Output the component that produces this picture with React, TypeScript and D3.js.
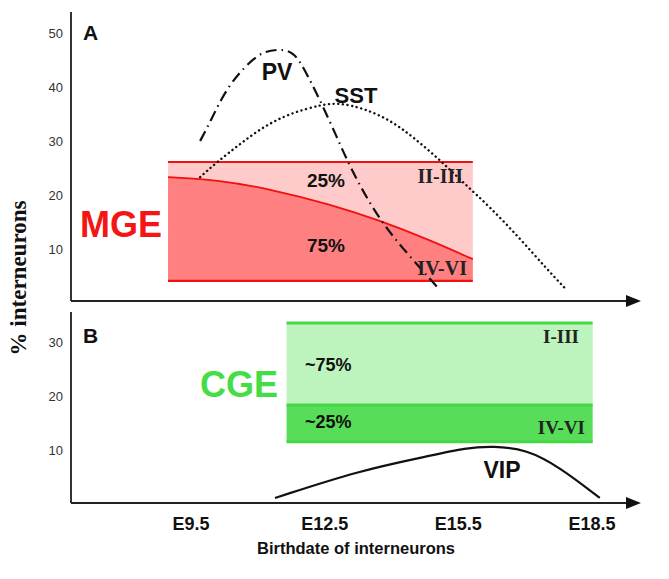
import * as d3 from "d3";

// birthdate axis
const tickDays = [9.5, 12.5, 15.5, 18.5];
const tickLabels = ["E9.5", "E12.5", "E15.5", "E18.5"];
const ticksA = [10, 20, 30, 40, 50];
const ticksB = [10, 20, 30];

// panel A: PV and SST birth curves
const pvDays = [9.66, 9.88, 10.26, 10.78, 11.1, 11.45, 11.75, 11.97, 12.35, 12.73, 13.02, 13.63, 14.3, 15.04];
const pvValues = [30.2, 33.6, 40.2, 45.0, 46.8, 47.2, 46.7, 44.0, 37.8, 30.9, 25.4, 16.1, 9.4, 2.6];
const sstDays = [9.66, 10.04, 10.55, 11.07, 11.67, 12.41, 12.8, 13.31, 13.92, 14.43, 15.04, 15.55, 16.16, 16.83, 17.44, 17.84];
const sstValues = [23.5, 26.3, 29.6, 32.8, 35.3, 37.0, 37.2, 36.3, 34.1, 31.0, 26.7, 22.6, 18.0, 12.2, 6.5, 3.0];

// MGE band and the split between upper (II-III) and deep (IV-VI) layers
const mgeDays = [8.94, 15.78];
const mgeTop = 26.3;
const mgeBottom = 4.3;
const mgeSplitDays = [8.94, 10.1, 11.22, 12.57, 13.69, 14.81, 15.78];
const mgeSplitValues = [23.5, 22.96, 21.3, 18.5, 15.5, 11.85, 8.3];

// panel B: CGE band and VIP curve
const cgeDays = [11.6, 18.47];
const cgeLevels = [33.7, 18.5, 11.7];
const vipDays = [11.34, 13.24, 14.75, 15.64, 16.23, 16.99, 17.73, 18.63];
const vipValues = [1.3, 6.4, 9.0, 10.6, 10.9, 10.3, 7.0, 1.3];

const W = 669;
const H = 579;
const sans = "'Liberation Sans', Arial, sans-serif";
const serif = "'Liberation Serif', 'Times New Roman', serif";

export default function App() {
  const x = d3.scaleLinear().domain([9.5, 18.5]).range([193, 594]);
  const yA = d3.scaleLinear().domain([0, 50]).range([304, 34]);
  const yB = d3.scaleLinear().domain([0, 30]).range([505, 343]);

  const axisX0 = 71;
  const axisAy = 301;
  const axisBy = 503;

  const curveOf = (days: number[], y: d3.ScaleLinear<number, number>, curve: d3.CurveFactory) =>
    d3
      .line<number>()
      .x((d, i) => x(days[i]))
      .y((d) => y(d))
      .curve(curve);

  const pv = curveOf(pvDays, yA, d3.curveBasis)(pvValues);
  const sst = curveOf(sstDays, yA, d3.curveBasis)(sstValues);
  const vip = curveOf(vipDays, yB, d3.curveBasis)(vipValues);
  const split = curveOf(mgeSplitDays, yA, d3.curveBasis)(mgeSplitValues);
  const deepArea = d3
    .area<number>()
    .x((d, i) => x(mgeSplitDays[i]))
    .y0(yA(mgeBottom))
    .y1((d) => yA(d))
    .curve(d3.curveBasis)(mgeSplitValues);

  const arrow = (y: number) => (
    <g>
      <line x1={axisX0} x2={628} y1={y} y2={y} stroke="#222" strokeWidth={2.2} />
      <path d={`M626,${y - 6} L641,${y} L626,${y + 6} Z`} fill="#111" />
    </g>
  );

  return (
    <svg width={W} height={H} style={{ position: "absolute", left: 0, top: 0, background: "#fff" }}>
      {/* panel A */}
      <rect
        x={x(mgeDays[0])}
        y={yA(mgeTop)}
        width={x(mgeDays[1]) - x(mgeDays[0])}
        height={yA(mgeBottom) - yA(mgeTop)}
        fill="#ffcaca"
      />
      <path d={deepArea ?? ""} fill="#ff8080" />
      <path d={split ?? ""} fill="none" stroke="#f01010" strokeWidth={1.8} />
      {[mgeTop, mgeBottom].map((v) => (
        <line key={v} x1={x(mgeDays[0])} x2={x(mgeDays[1])} y1={yA(v)} y2={yA(v)} stroke="#f01010" strokeWidth={2.2} />
      ))}

      <path d={sst ?? ""} fill="none" stroke="#111" strokeWidth={2.4} strokeDasharray="0.1,4.6" strokeLinecap="round" />
      <path d={pv ?? ""} fill="none" stroke="#111" strokeWidth={2.2} strokeDasharray="11,5,1.5,5" />

      <text x={326} y={187} fontFamily={sans} fontWeight="bold" fontSize={19} textAnchor="middle" fill="#111">25%</text>
      <text x={326} y={252} fontFamily={sans} fontWeight="bold" fontSize={19} textAnchor="middle" fill="#111">75%</text>
      <text x={463} y={183} fontFamily={serif} fontWeight="bold" fontSize={20} textAnchor="end" fill="#222">II-III</text>
      <text x={467} y={275} fontFamily={serif} fontWeight="bold" fontSize={20} textAnchor="end" fill="#222">IV-VI</text>
      <text x={277} y={80} fontFamily={sans} fontWeight="bold" fontSize={23} textAnchor="middle" fill="#111">PV</text>
      <text x={356} y={103} fontFamily={sans} fontWeight="bold" fontSize={22} textAnchor="middle" fill="#111">SST</text>
      <text x={80} y={237} fontFamily={sans} fontWeight="bold" fontSize={36} fill="#f41515">MGE</text>
      <text x={83} y={40} fontFamily={sans} fontWeight="bold" fontSize={21} fill="#111">A</text>

      <line x1={axisX0} x2={axisX0} y1={12} y2={axisAy} stroke="#333" strokeWidth={2} />
      {arrow(axisAy)}
      {ticksA.map((t) => (
        <text key={t} x={63} y={yA(t) + 4} fontFamily={sans} fontSize={13} textAnchor="end" fill="#333">{t}</text>
      ))}

      {/* panel B */}
      <rect
        x={x(cgeDays[0])}
        y={yB(cgeLevels[0])}
        width={x(cgeDays[1]) - x(cgeDays[0])}
        height={yB(cgeLevels[1]) - yB(cgeLevels[0])}
        fill="#bdf3bd"
      />
      <rect
        x={x(cgeDays[0])}
        y={yB(cgeLevels[1])}
        width={x(cgeDays[1]) - x(cgeDays[0])}
        height={yB(cgeLevels[2]) - yB(cgeLevels[1])}
        fill="#58dd58"
      />
      {cgeLevels.map((v) => (
        <line key={v} x1={x(cgeDays[0])} x2={x(cgeDays[1])} y1={yB(v)} y2={yB(v)} stroke="#44d844" strokeWidth={3} />
      ))}
      <text x={305} y={371} fontFamily={sans} fontWeight="bold" fontSize={18} fill="#111">~75%</text>
      <text x={305} y={428} fontFamily={sans} fontWeight="bold" fontSize={18} fill="#111">~25%</text>
      <text x={579} y={343} fontFamily={serif} fontWeight="bold" fontSize={19} textAnchor="end" fill="#222">I-III</text>
      <text x={585} y={434} fontFamily={serif} fontWeight="bold" fontSize={19} textAnchor="end" fill="#222">IV-VI</text>
      <text x={278} y={397} fontFamily={sans} fontWeight="bold" fontSize={36} textAnchor="end" fill="#44dd44">CGE</text>

      <path d={vip ?? ""} fill="none" stroke="#111" strokeWidth={2.2} />
      <text x={502} y={478} fontFamily={sans} fontWeight="bold" fontSize={23} textAnchor="middle" fill="#111">VIP</text>
      <text x={83} y={343} fontFamily={sans} fontWeight="bold" fontSize={21} fill="#111">B</text>

      <line x1={axisX0} x2={axisX0} y1={312} y2={axisBy} stroke="#333" strokeWidth={2} />
      {arrow(axisBy)}
      {ticksB.map((t) => (
        <text key={t} x={63} y={yB(t) + 4} fontFamily={sans} fontSize={13} textAnchor="end" fill="#333">{t}</text>
      ))}

      {tickDays.map((d, i) => (
        <text key={d} x={x(d) - 2} y={530} fontFamily={sans} fontWeight="bold" fontSize={18} textAnchor="middle" fill="#111">
          {tickLabels[i]}
        </text>
      ))}
      <text x={356} y={554} fontFamily={sans} fontWeight="bold" fontSize={16.5} textAnchor="middle" fill="#111">
        Birthdate of interneurons
      </text>
      <text
        transform="translate(26,278) rotate(-90)"
        fontFamily={serif}
        fontWeight="bold"
        fontSize={23}
        textAnchor="middle"
        fill="#111"
      >
        % interneurons
      </text>
    </svg>
  );
}
